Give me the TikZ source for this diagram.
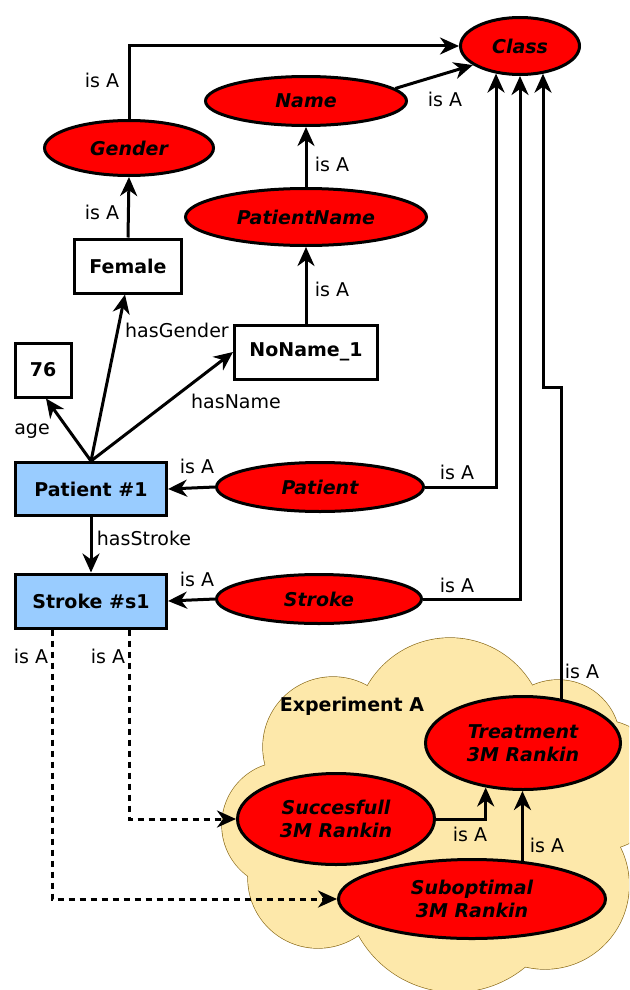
\documentclass[tikz,border=0pt]{standalone}
\usepackage{fontspec}
\setmainfont{DejaVu Sans}
\usetikzlibrary{arrows.meta,shapes.geometric,calc}
\definecolor{classred}{HTML}{FF0000}
\definecolor{instblue}{HTML}{99CCFF}
\definecolor{cloudfill}{HTML}{FDE8AA}
\definecolor{cloudline}{HTML}{8B6B1A}
\begin{document}
\begin{tikzpicture}[x=1pt,y=-1pt,
  cls/.style={ellipse,draw,line width=3pt,fill=classred,inner sep=0pt,
    font=\fontsize{19}{23}\selectfont\bfseries\itshape,align=center},
  inst/.style={rectangle,draw,line width=3pt,inner sep=0pt,
    font=\fontsize{19}{23}\selectfont\bfseries},
  link/.style={line width=3pt,-{Stealth[length=19pt,width=17pt,inset=6pt]}},
  dlink/.style={link,dash pattern=on 6pt off 5pt},
  lbl/.style={font=\fontsize{19}{23}\selectfont,inner sep=0pt},
]
\useasboundingbox (0,0) rectangle (629,990);

% cloud "Experiment A": union of lobes, outline first, then fills on top
\begin{scope}
  \clip (0,0) rectangle (629,990);
  \foreach \cx/\cy/\r in {450/733/95, 558/742/62, 600/785/65, 545/885/84,
                          455/882/110, 318/878/70, 285/825/63, 333/747/70}
    \draw[cloudline,line width=1.3pt] (\cx,\cy) circle[radius=\r pt];
  \foreach \cx/\cy/\r in {450/733/95, 558/742/62, 600/785/65, 545/885/84,
                          455/882/110, 318/878/70, 285/825/63, 333/747/70}
    \fill[cloudfill] (\cx,\cy) circle[radius=\r pt];
  \fill[cloudfill] (450,733) -- (558,742) -- (600,785) -- (545,885)
    -- (455,882) -- (318,878) -- (285,825) -- (333,747) -- cycle;
\end{scope}
\node[font=\fontsize{19}{23}\selectfont\bfseries,inner sep=0pt] (exp) at (352,706) {Experiment A};

% classes
\node[cls,minimum width=119pt,minimum height=57pt] (class) at (520,46) {Class};
\node[cls,minimum width=201pt,minimum height=49pt] (name) at (306,101) {Name};
\node[cls,minimum width=169pt,minimum height=55pt] (gender) at (129,148) {Gender};
\node[cls,minimum width=241pt,minimum height=57pt] (pname) at (306,217) {PatientName};
\node[cls,minimum width=207pt,minimum height=49pt] (pe) at (320,487) {Patient};
\node[cls,minimum width=205pt,minimum height=49pt] (se) at (319,599) {Stroke};
\node[cls,minimum width=195pt,minimum height=93pt] (treat) at (523,743) {Treatment\\3M Rankin};
\node[cls,minimum width=197pt,minimum height=91pt] (succ) at (336,819) {Succesfull\\3M Rankin};
\node[cls,minimum width=267pt,minimum height=79pt] (sub) at (472,899) {Suboptimal\\3M Rankin};

% individuals
\node[inst,minimum width=107pt,minimum height=54pt] (female) at (128,266) {Female};
\node[inst,minimum width=143pt,minimum height=54pt] (noname) at (306,352) {NoName\_1};
\node[inst,minimum width=56pt,minimum height=54pt] (n76) at (43,370) {76};
\node[inst,fill=instblue,minimum width=151pt,minimum height=53pt] (p1) at (91,489) {Patient \#1};
\node[inst,fill=instblue,minimum width=151pt,minimum height=54pt] (s1) at (91,601) {Stroke \#s1};

% relations
\coordinate (tbend) at (543,387);
\draw[link] (gender.north) |- (class.west);
\draw[link] (name.8) -- (class.202);
\draw[link] (pname.north) -- (name.south);
\draw[link] (noname.north) -- (pname.south);
\draw[link] (female.north) -- (gender.south);
\draw[link] (p1.north) -- ([xshift=-3pt]female.south);
\draw[link] (p1.north) -- (noname.west);
\draw[link] (p1.north) -- ([xshift=3pt]n76.south);
\draw[link] (p1.south) -- (s1.north);
\draw[link] (pe.west) -- (p1.east);
\draw[link] (se.west) -- (s1.east);
\draw[link] (pe.east) -| (class.229);
\draw[link] (se.east) -| (class.south);
\draw[link] (treat.49) |- (tbend) -- (tbend |- class.310);
\draw[link] (succ.east) -| (treat.230);
\draw[link] (sub.37) -- (sub.37 |- treat.south);
\draw[dlink] ([xshift=38pt]s1.south) |- (succ.west);
\draw[dlink] ([xshift=-39pt]s1.south) |- (sub.west);

% labels
\node[lbl] (la1) at (102,80) {is A};
\node[lbl] (la2) at (102,212) {is A};
\node[lbl] (la3) at (445,99) {is A};
\node[lbl] (la4) at (332,164) {is A};
\node[lbl] (la5) at (332,289) {is A};
\node[lbl] (lhg) at (177,330) {hasGender};
\node[lbl] (lhn) at (236,401) {hasName};
\node[lbl] (lage) at (32,431) {age};
\node[lbl] (la6) at (197,466) {is A};
\node[lbl] (la7) at (457,472) {is A};
\node[lbl] (lhs) at (144,538) {hasStroke};
\node[lbl] (la8) at (197,579) {is A};
\node[lbl] (la9) at (457,585) {is A};
\node[lbl] (la10) at (31,656) {is A};
\node[lbl] (la11) at (108,656) {is A};
\node[lbl] (la12) at (582,671) {is A};
\node[lbl] (la13) at (470,834) {is A};
\node[lbl] (la14) at (547,845) {is A};
\end{tikzpicture}
\end{document}
